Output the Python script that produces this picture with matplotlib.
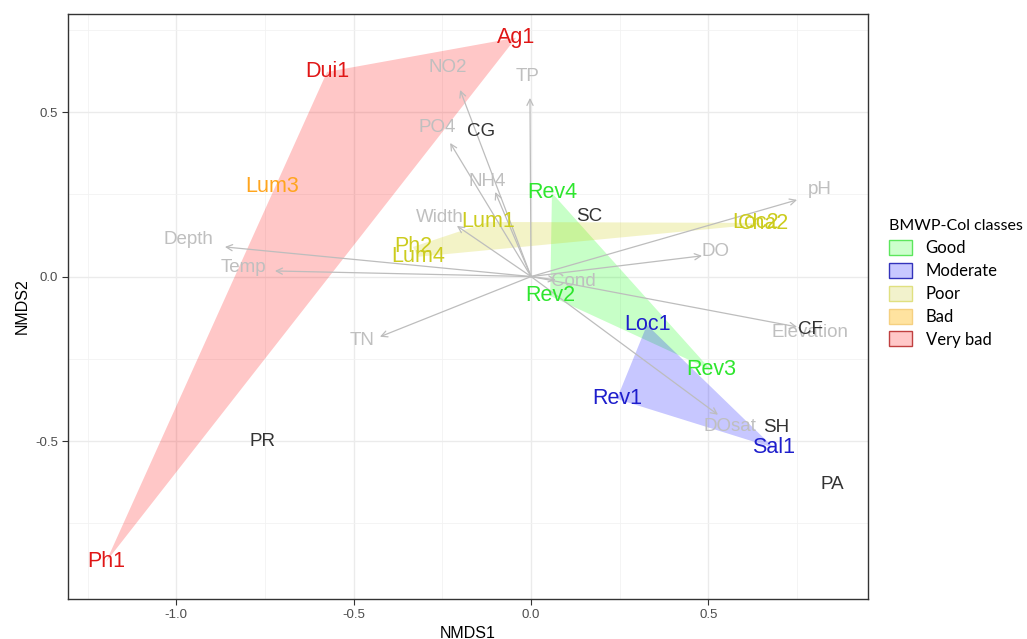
import matplotlib.pyplot as plt
from matplotlib.patches import Patch, Polygon

plt.rcParams['font.family'] = ['Liberation Sans', 'DejaVu Sans']
plt.rcParams['axes.unicode_minus'] = False

# site scores (NMDS1, NMDS2) and their BMWP-Col class
sites = ['Ag1', 'Dui1', 'Ph1', 'Lum3', 'Ph2', 'Lum4', 'Lum1', 'Loc2', 'Cha2',
         'Rev4', 'Rev2', 'Rev3', 'Loc1', 'Rev1', 'Sal1']
site_x = [-0.042, -0.575, -1.198, -0.730, -0.333, -0.319, -0.121, 0.632, 0.654,
          0.059, 0.054, 0.507, 0.327, 0.242, 0.685]
site_y = [0.726, 0.622, -0.867, 0.273, 0.090, 0.060, 0.166, 0.163, 0.160,
          0.254, -0.059, -0.284, -0.147, -0.372, -0.521]
site_class = ['Very bad', 'Very bad', 'Very bad', 'Bad', 'Poor', 'Poor', 'Poor',
              'Poor', 'Poor', 'Good', 'Good', 'Good', 'Moderate', 'Moderate',
              'Moderate']

# taxa scores
taxa = ['CG', 'SC', 'CF', 'SH', 'PA', 'PR']
taxa_x = [-0.141, 0.164, 0.787, 0.691, 0.849, -0.756]
taxa_y = [0.440, 0.184, -0.162, -0.460, -0.633, -0.502]

# environmental vectors: arrow tips and label positions
env = ['NO2', 'TP', 'PO4', 'NH4', 'Width', 'Depth', 'Temp', 'TN', 'pH', 'DO',
       'Elevation', 'DOsat', 'Cond']
env_x = [-0.200, -0.003, -0.228, -0.101, -0.209, -0.863, -0.722, -0.426, 0.750,
         0.482, 0.750, 0.527, 0.070]
env_y = [0.567, 0.543, 0.406, 0.257, 0.154, 0.090, 0.017, -0.183, 0.233,
         0.063, -0.153, -0.420, -0.010]
env_lab_x = [-0.234, -0.011, -0.265, -0.124, -0.257, -0.967, -0.812, -0.476,
             0.815, 0.519, 0.787, 0.561, 0.118]
env_lab_y = [0.634, 0.607, 0.452, 0.288, 0.178, 0.112, 0.029, -0.195,
             0.264, 0.075, -0.171, -0.457, -0.016]

classes = ['Good', 'Moderate', 'Poor', 'Bad', 'Very bad']
text_col = {'Good': '#2EE62E', 'Moderate': '#1E1ECC', 'Poor': '#CCCC1E',
            'Bad': '#FFA51E', 'Very bad': '#E01616'}
fill_col = {'Good': '#00FF00', 'Moderate': '#0000FF', 'Poor': '#CCCC00',
            'Bad': '#FFA500', 'Very bad': '#FF0000'}
leg_face = {'Good': '#CCFFCC', 'Moderate': '#C8C8FF', 'Poor': '#F2F2CC',
            'Bad': '#FFE3A0', 'Very bad': '#FFC8C8'}
leg_edge = {'Good': '#5CE65C', 'Moderate': '#3333BB', 'Poor': '#E0E080',
            'Bad': '#F5D080', 'Very bad': '#C04040'}


def hull(points):
    """Convex hull (monotone chain) of a list of (x, y) points."""
    pts = sorted(set(points))
    if len(pts) < 3:
        return pts

    def cross(o, a, b):
        return (a[0] - o[0]) * (b[1] - o[1]) - (a[1] - o[1]) * (b[0] - o[0])

    lower, upper = [], []
    for p in pts:
        while len(lower) >= 2 and cross(lower[-2], lower[-1], p) <= 0:
            lower.pop()
        lower.append(p)
    for p in reversed(pts):
        while len(upper) >= 2 and cross(upper[-2], upper[-1], p) <= 0:
            upper.pop()
        upper.append(p)
    return lower[:-1] + upper[:-1]


fig = plt.figure(figsize=(10.27, 6.39), dpi=100)
ax = fig.add_axes([0.0665, 0.0626, 0.7787, 0.9155])

# hull polygons per class
for c in classes:
    pts = [(x, y) for x, y, k in zip(site_x, site_y, site_class) if k == c]
    h = hull(pts)
    if len(h) >= 3:
        ax.add_patch(Polygon(h, closed=True, facecolor=fill_col[c],
                             alpha=0.22, edgecolor='none', zorder=2))

# environmental arrows
for x, y in zip(env_x, env_y):
    ax.annotate('', xy=(x, y), xytext=(0, 0),
                arrowprops=dict(arrowstyle='->', color='#BDBDBD', lw=0.9,
                                mutation_scale=11, shrinkA=0, shrinkB=0),
                zorder=3)
for lab, x, y in zip(env, env_lab_x, env_lab_y):
    ax.text(x, y, lab, color='#BFBFBF', fontsize=13.5, ha='center',
            va='center', zorder=4)

# taxa labels
for lab, x, y in zip(taxa, taxa_x, taxa_y):
    ax.text(x, y, lab, color='#333333', fontsize=13.5, ha='center',
            va='center', zorder=5)

# site labels
for lab, x, y, k in zip(sites, site_x, site_y, site_class):
    ax.text(x, y, lab, color=text_col[k], fontsize=15.5, ha='center',
            va='center', zorder=6)

ax.set_xlim(-1.3045, 0.950)
ax.set_ylim(-0.980, 0.798)
ax.set_xticks([-1.0, -0.5, 0.0, 0.5])
ax.set_yticks([-0.5, 0.0, 0.5])
ax.set_xticks([-1.25, -0.75, -0.25, 0.25, 0.75], minor=True)
ax.set_yticks([-0.75, -0.25, 0.25, 0.75], minor=True)
ax.grid(which='major', color='#EBEBEB', lw=1.0, zorder=0)
ax.grid(which='minor', color='#F2F2F2', lw=0.6, zorder=0)
ax.set_axisbelow(True)
ax.tick_params(which='major', length=4, color='#333333', labelsize=9.5,
               labelcolor='#4D4D4D')
ax.tick_params(which='minor', length=0)
for s in ax.spines.values():
    s.set_color('#333333')
    s.set_linewidth(1.0)
ax.set_xlabel('NMDS1', fontsize=11.5, labelpad=3)
ax.set_ylabel('NMDS2', fontsize=11.5, labelpad=4)

handles = [Patch(facecolor=leg_face[c], edgecolor=leg_edge[c], lw=1.0,
                 label=c) for c in classes]
fig.legend(handles=handles, title='BMWP-Col classes', loc='upper left',
           bbox_to_anchor=(0.859, 0.667), frameon=False,
           prop={'family': 'Lato', 'size': 12},
           title_fontproperties={'family': 'Lato', 'size': 11.5},
           handlelength=1.4, handleheight=1.0, handletextpad=0.8,
           labelspacing=0.4, borderaxespad=0, alignment='left')

fig.savefig('out.png', dpi=100)
